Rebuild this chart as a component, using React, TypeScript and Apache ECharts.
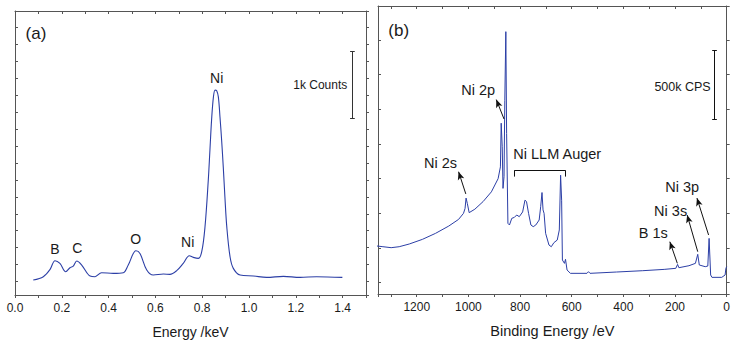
import React, { useEffect, useRef } from "react";
import * as echarts from "echarts";

// ---------- Panel (a): EDS spectrum ----------
const edsEnergy = [
  0.078, 0.121, 0.15, 0.171, 0.192, 0.217, 0.235, 0.249, 0.264, 0.285, 0.321, 0.342, 0.37, 0.42,
  0.463, 0.484, 0.517, 0.534, 0.563, 0.591, 0.634, 0.662, 0.691, 0.719, 0.745, 0.762, 0.783,
  0.798, 0.812, 0.826, 0.833, 0.84, 0.848, 0.855, 0.862, 0.869, 0.876, 0.883, 0.89, 0.897, 0.905,
  0.919, 0.933, 0.962, 1.019, 1.075, 1.147, 1.218, 1.289, 1.399,
];
const edsIntensity = [
  0.49, 1.47, 3.63, 6.18, 5.39, 2.94, 4.12, 4.61, 6.08, 4.9, 1.67, 1.47, 2.65, 2.45,
  2.65, 4.9, 9.12, 8.33, 3.43, 1.96, 2.25, 2.16, 3.24, 5.39, 7.65, 7.16, 6.86,
  8.82, 16.18, 29.9, 38.7, 47.5, 54.4, 56.4, 56.2, 54.4, 48.5, 41.7, 33.8, 25.0, 16.2,
  7.35, 3.92, 1.96, 1.67, 1.27, 1.57, 1.27, 1.47, 1.27,
];
const edsPeakLabels = ["B", "C", "O", "Ni", "Ni"];
const edsPeakLabelX = [0.171, 0.266, 0.516, 0.738, 0.862];
const edsPeakLabelY = [9.5, 9.8, 12.45, 11.76, 60.1];
const edsTickLabels = ["0.0", "0.2", "0.4", "0.6", "0.8", "1.0", "1.2", "1.4"];

// ---------- Panel (b): XPS survey ----------
const xpsBindingEnergy = [
  1354, 1331, 1299, 1268, 1229, 1178, 1127, 1076, 1038, 1019, 1013, 1009, 1004, 997, 975, 943,
  911, 885, 876, 873, 869, 866, 862, 859, 855, 852, 847, 841, 832, 822, 813, 803, 790, 781,
  775, 767, 758, 749, 739, 726, 720, 715, 711, 707, 701, 688, 679, 669, 656, 648, 643, 639,
  636, 628, 624, 618, 605, 541, 535, 529, 427, 325, 242, 197, 190, 185, 146, 121, 112, 106,
  83, 73, 68, 62, 57, 19, 6, 3, 0,
];
const xpsIntensity = [
  5.29, 5.19, 5.05, 5.19, 5.58, 6.25, 7.12, 8.17, 9.13, 10.0, 10.7, 12.2, 11.4, 10.1, 10.6, 11.7,
  13.1, 15.0, 16.7, 23.0, 19.6, 13.6, 15.3, 26.3, 36.2, 21.5, 8.56, 8.32, 9.28, 9.42, 9.76, 9.52, 10.2, 11.9,
  11.7, 10.0, 8.32, 8.08, 8.32, 9.04, 11.0, 13.0, 10.5, 10.0, 7.12, 5.43, 5.19, 5.77, 6.15, 7.6, 15.5, 11.9,
  3.27, 2.79, 3.37, 1.83, 1.35, 1.35, 1.59, 1.35, 1.54, 1.73, 1.92, 2.07, 2.64, 2.16, 2.45, 2.79, 4.09, 2.55,
  2.31, 2.4, 6.39, 1.11, 0.77, 0.77, 1.11, 2.07, 2.31,
];
const xpsPeakLabels = ["Ni 2p", "Ni 2s", "Ni 3p", "Ni 3s", "B 1s"];
const xpsLabelX = [962, 1108, 172, 217, 284];
const xpsLabelY = [27.8, 17.2, 13.8, 10.4, 7.2];
const xpsArrowFromX = [862, 1010, 70, 112, 191];
const xpsArrowFromY = [23.6, 12.8, 6.88, 4.47, 2.79];
const xpsArrowToX = [892, 1038, 115, 153, 220];
const xpsArrowToY = [26.4, 16.0, 12.2, 9.76, 5.91];
const augerLabel = "Ni LLM Auger";
const augerRange = [822, 624];
const augerBracketY = [16.2, 15.3];
const xpsTickStep = 200;

const FONT = "'Liberation Sans', Arial, Helvetica, sans-serif";
const LINE = "#2c3fa6";
const AXIS = "#555555";
const TEXT = "#1a1a1a";

function App() {
  const ref = useRef<HTMLDivElement>(null);
  useEffect(() => {
    if (!ref.current) return;
    const chart = echarts.init(ref.current, undefined, { renderer: "svg" });

    const edsData = edsEnergy.map((e, i) => [e, edsIntensity[i]]);
    const xpsData = xpsBindingEnergy.map((e, i) => [e, xpsIntensity[i]]);

    const tickStyle = (inside: boolean) => ({
      show: true,
      inside,
      length: 3,
      lineStyle: { color: AXIS, width: 1 },
    });
    const axisLine = { show: true, onZero: false, lineStyle: { color: AXIS, width: 1 } };

    const capA = 0.01;
    const capB = 9;
    const plain = (a: number[], b: number[]) => [
      { coord: a, symbol: "none" },
      { coord: b, symbol: "none" },
    ];

    const yA = {
      gridIndex: 0,
      type: "value",
      min: -3.92,
      max: 79.7,
      splitNumber: 17,
      minInterval: 5,
      maxInterval: 5,
      axisLine,
      axisLabel: { show: false },
      splitLine: { show: false },
    };
    const yB = {
      gridIndex: 1,
      type: "value",
      min: -1.63,
      max: 39.9,
      splitNumber: 8,
      minInterval: 5,
      maxInterval: 5,
      axisLine,
      axisLabel: { show: false },
      splitLine: { show: false },
    };

    const option: any = {
      animation: false,
      textStyle: { fontFamily: FONT },
      grid: [
        { left: 15, top: 11, width: 351, height: 284 },
        { left: 378, top: 6, width: 354, height: 288 },
      ],
      xAxis: [
        {
          gridIndex: 0,
          type: "value",
          min: 0,
          max: 1.5,
          interval: 0.1,
          axisLine,
          axisTick: tickStyle(false),
          splitLine: { show: false },
          axisLabel: {
            color: TEXT,
            fontSize: 12,
            margin: 7,
            fontFamily: FONT,
            formatter: (v: number) => {
              const k = Math.round(v * 10);
              return k % 2 === 0 ? edsTickLabels[k / 2] ?? "" : "";
            },
          },
          name: "Energy /keV",
          nameLocation: "middle",
          nameGap: 30,
          nameTextStyle: { color: TEXT, fontSize: 14, fontFamily: FONT },
        },
        {
          gridIndex: 0,
          type: "value",
          position: "top",
          min: 0,
          max: 1.5,
          interval: 0.1,
          axisLine,
          axisTick: tickStyle(true),
          axisLabel: { show: false },
          splitLine: { show: false },
        },
        {
          gridIndex: 1,
          type: "value",
          inverse: true,
          min: 0,
          max: 1350,
          interval: 100,
          axisLine,
          axisTick: tickStyle(false),
          splitLine: { show: false },
          axisLabel: {
            color: TEXT,
            fontSize: 12,
            margin: 7,
            fontFamily: FONT,
            formatter: (v: number) => (Math.round(v) % xpsTickStep === 0 ? String(Math.round(v)) : ""),
          },
          name: "Binding Energy /eV",
          nameLocation: "middle",
          nameGap: 29,
          nameTextStyle: { color: TEXT, fontSize: 14.5, fontFamily: FONT },
        },
        {
          gridIndex: 1,
          type: "value",
          position: "top",
          inverse: true,
          min: 0,
          max: 1350,
          interval: 100,
          axisLine,
          axisTick: tickStyle(true),
          axisLabel: { show: false },
          splitLine: { show: false },
        },
      ],
      yAxis: [
        { ...yA, position: "left", axisTick: tickStyle(true) },
        { ...yA, position: "right", axisTick: tickStyle(false) },
        { ...yB, position: "left", axisTick: tickStyle(true) },
        { ...yB, position: "right", axisTick: tickStyle(false) },
      ],
      series: [
        {
          type: "line",
          xAxisIndex: 0,
          yAxisIndex: 0,
          data: edsData,
          smooth: 0.35,
          showSymbol: false,
          symbol: "none",
          lineStyle: { color: LINE, width: 1.1 },
          silent: true,
          markPoint: {
            silent: true,
            symbol: "rect",
            symbolSize: 1,
            itemStyle: { color: "rgba(0,0,0,0)" },
            label: {
              show: true,
              position: "inside",
              formatter: "{b}",
              color: TEXT,
              fontSize: 14,
              fontFamily: FONT,
            },
            data: [
              ...edsPeakLabels.map((n, i) => ({ name: n, coord: [edsPeakLabelX[i], edsPeakLabelY[i]] })),
              {
                name: "(a)",
                coord: [0.043, 73.0],
                label: { position: "right", distance: 0, fontSize: 17 },
              },
              {
                name: "1k Counts",
                coord: [1.422, 57.8],
                label: { position: "left", distance: 0, fontSize: 12 },
              },
            ],
          },
          markLine: {
            silent: true,
            symbol: ["none", "none"],
            label: { show: false },
            lineStyle: { color: "#333", width: 1, type: "solid" },
            emphasis: { disabled: true },
            data: [
              plain([1.442, 67.9], [1.442, 48.1]),
              plain([1.442 - capA, 67.9], [1.442 + capA, 67.9]),
              plain([1.442 - capA, 48.1], [1.442 + capA, 48.1]),
            ],
          },
        },
        {
          type: "line",
          xAxisIndex: 2,
          yAxisIndex: 2,
          data: xpsData,
          showSymbol: false,
          symbol: "none",
          lineStyle: { color: LINE, width: 1 },
          silent: true,
          markPoint: {
            silent: true,
            symbol: "rect",
            symbolSize: 1,
            itemStyle: { color: "rgba(0,0,0,0)" },
            label: {
              show: true,
              position: "inside",
              formatter: "{b}",
              color: TEXT,
              fontSize: 14.5,
              fontFamily: FONT,
            },
            data: [
              ...xpsPeakLabels.map((n, i) => ({ name: n, coord: [xpsLabelX[i], xpsLabelY[i]] })),
              { name: augerLabel, coord: [656, 18.6] },
              {
                name: "(b)",
                coord: [1312, 36.4],
                label: { position: "right", distance: 0, fontSize: 17 },
              },
              {
                name: "500k CPS",
                coord: [60, 28.2],
                label: { position: "left", distance: 0, fontSize: 12.5 },
              },
            ],
          },
          markLine: {
            silent: true,
            symbol: ["none", "none"],
            label: { show: false },
            lineStyle: { color: "#111", width: 1, type: "solid" },
            emphasis: { disabled: true },
            data: [
              ...xpsPeakLabels.map((_, i) => [
                { coord: [xpsArrowFromX[i], xpsArrowFromY[i]], symbol: "none" },
                { coord: [xpsArrowToX[i], xpsArrowToY[i]], symbol: "arrow", symbolSize: [5, 8] },
              ]),
              plain([augerRange[0], augerBracketY[0]], [augerRange[1], augerBracketY[0]]),
              plain([augerRange[0], augerBracketY[0]], [augerRange[0], augerBracketY[1]]),
              plain([augerRange[1], augerBracketY[0]], [augerRange[1], augerBracketY[1]]),
              plain([47, 33.5], [47, 23.6]),
              plain([47 - capB, 33.5], [47 + capB, 33.5]),
              plain([47 - capB, 23.6], [47 + capB, 23.6]),
            ],
          },
        },
      ],
    };

    chart.setOption(option);
    return () => chart.dispose();
  }, []);

  return (
    <div
      ref={ref}
      style={{ position: "fixed", left: 0, top: 0, width: 733, height: 345, background: "#fff" }}
    />
  );
}

export default App;
